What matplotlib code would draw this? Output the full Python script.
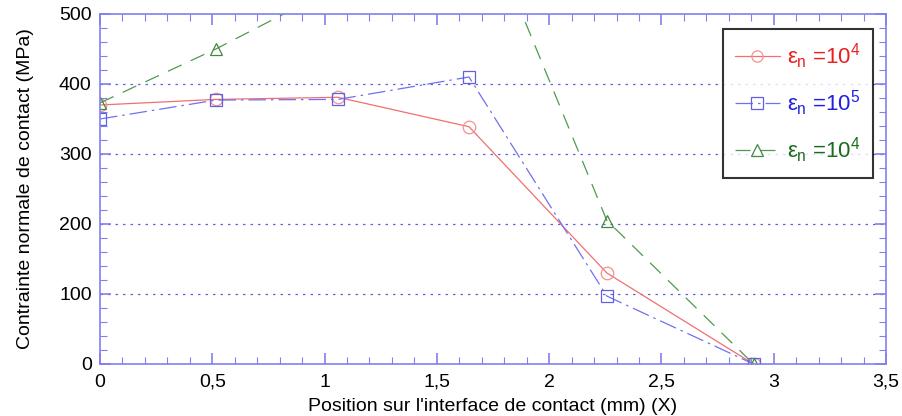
import matplotlib
matplotlib.use("Agg")
import matplotlib.pyplot as plt
from matplotlib.ticker import MultipleLocator, FuncFormatter

plt.rcParams['font.family'] = ['Liberation Sans', 'DejaVu Sans']
plt.rcParams['mathtext.fontset'] = 'custom'
plt.rcParams['mathtext.rm'] = 'Liberation Sans'
plt.rcParams['mathtext.it'] = 'Liberation Sans'

x_pos = [0.0, 0.516, 1.06, 1.643, 2.257, 2.91]
red_vals = [370, 378, 381, 339, 130, 0]
blue_vals = [350, 377, 378, 410, 97, 0]
green_vals = [373, 450, 540, 684, 205, 0]

labels = [r'$\epsilon_n$ =10$^4$', r'$\epsilon_n$ =10$^5$', r'$\epsilon_n$ =10$^4$']
line_colors = ['#f07070', '#7070f0', '#4f9a4f']
text_colors = ['#e82020', '#2020e0', '#1a6b1a']

fig = plt.figure(figsize=(9.02, 4.16), dpi=100)
ax = fig.add_axes([100/902, 52/416, 786/902, 350/416])

ax.plot(x_pos, red_vals, '-', color=line_colors[0], lw=0.9, marker='o', ms=9,
        mfc='none', mec='#f59090', mew=0.9, label=labels[0])
ax.plot(x_pos, blue_vals, color=line_colors[1], lw=0.9, dashes=(14, 4, 2, 4),
        marker='s', ms=9, mfc='none', mec='#6060e0', mew=0.9, label=labels[1])
ax.plot(x_pos, green_vals, color=line_colors[2], lw=0.9, dashes=(12, 8),
        marker='^', ms=9, mfc='none', mec='#3f8a3f', mew=0.9, label=labels[2])

ax.set_xlim(0, 3.5)
ax.set_ylim(0, 500)
ax.xaxis.set_major_locator(MultipleLocator(0.5))
ax.xaxis.set_minor_locator(MultipleLocator(0.1))
ax.yaxis.set_major_locator(MultipleLocator(100))
ax.yaxis.set_minor_locator(MultipleLocator(20))
ax.xaxis.set_major_formatter(FuncFormatter(lambda v, p: ('%g' % v).replace('.', ',')))

spine_c = '#8080f0'
for s in ax.spines.values():
    s.set_color(spine_c)
    s.set_linewidth(1.2)
ax.tick_params(which='both', direction='in', top=True, right=True, colors=spine_c,
               labelcolor='black', labelsize=14)
ax.tick_params(which='major', length=8, width=1.2)
ax.tick_params(which='minor', length=5, width=0.8)
ax.tick_params(axis='x', pad=7)
ax.tick_params(axis='y', pad=6)

for yv in [100, 200, 300, 400]:
    ax.axhline(yv, color='#6060e0', lw=0.9, ls=(0, (2, 4)), zorder=0)

ax.set_xlabel("Position sur l'interface de contact (mm) (X)", fontsize=14, labelpad=5)
ax.set_ylabel("Contrainte normale de contact (MPa)", fontsize=14, labelpad=18)

leg = ax.legend(loc='upper right', bbox_to_anchor=(0.9835, 0.957), fontsize=16,
                frameon=True, fancybox=False, edgecolor='black', handlelength=2.0,
                labelspacing=0.8, borderpad=0.55, handletextpad=0.35, borderaxespad=0,
                markerscale=0.9)
leg.get_frame().set_linewidth(1.5)
for t, c in zip(leg.get_texts(), text_colors):
    t.set_color(c)

fig.savefig('out.png', dpi=100)
